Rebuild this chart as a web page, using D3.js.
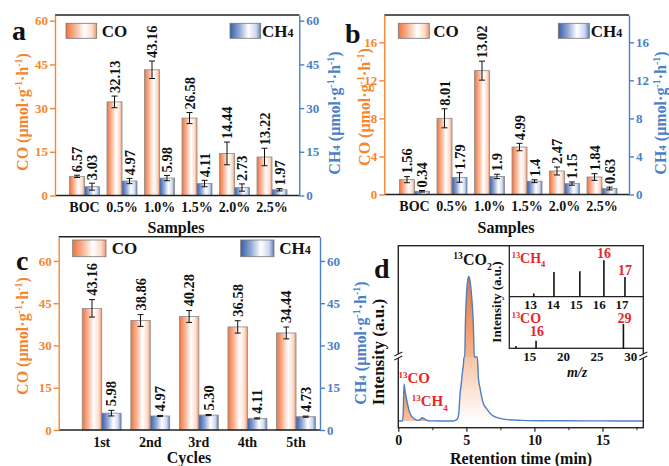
<!DOCTYPE html>
<html>
<head>
<meta charset="utf-8">
<title>CO and CH4 evolution rates</title>
<script src="https://cdn.jsdelivr.net/npm/d3@7"></script>
<style>
  body { margin: 0; background: #fff; }
  svg text { font-family: "Liberation Serif", "Times New Roman", serif; font-weight: bold; }
</style>
</head>
<body>
<script>
// ---- data ----
var samples = ["BOC", "0.5%", "1.0%", "1.5%", "2.0%", "2.5%"];
var coA = [6.57, 32.13, 43.16, 26.58, 14.44, 13.22];
var coAErr = [0.4, 2.0, 3.0, 1.9, 3.9, 3.0];
var ch4A = [3.03, 4.97, 5.98, 4.11, 2.73, 1.97];
var ch4AErr = [1.2, 0.9, 0.9, 1.1, 1.25, 0.4];

var coB = [1.56, 8.01, 13.02, 4.99, 2.47, 1.84];
var coBErr = [0.32, 1.0, 1.0, 0.39, 0.42, 0.35];
var ch4B = [0.34, 1.79, 1.9, 1.4, 1.15, 0.63];
var ch4BErr = [0.08, 0.5, 0.23, 0.15, 0.17, 0.15];

var cycles = ["1st", "2nd", "3rd", "4th", "5th"];
var coC = [43.16, 38.86, 40.28, 36.58, 34.44];
var coCErr = [3.1, 2.1, 2.1, 2.2, 2.1];
var ch4C = [5.98, 4.97, 5.30, 4.11, 4.73];
var ch4CErr = [1.0, 0.2, 0.2, 0.2, 0.2];

var ticksAC = [0, 15, 30, 45, 60];
var ticksB = [0, 4, 8, 12, 16];

// GC trace (retention time in min, intensity in a.u.)
var retTime = [0, 0.3, 0.36, 0.42, 0.5, 0.62, 0.74, 0.86, 1.0, 1.1, 1.25, 1.4, 1.55, 1.65, 1.76, 1.88, 2.0, 2.2, 2.5, 3.0, 3.6, 4.0,
  4.2, 4.34, 4.45, 4.54, 4.62, 4.7, 4.78, 4.83, 4.88, 4.93, 5.03, 5.1, 5.18, 5.26, 5.35, 5.51, 5.59, 5.81, 5.88, 6.0, 6.25,
  6.5, 6.74, 7.0, 7.48, 8.0, 9.0, 10.5, 12, 14, 16, 18];
var intensity = [0, 0, 4, 21.1, 17, 12, 7.5, 4.4, 2.5, 1.7, 0.9, 0.4, 0.6, 1.3, 1.9, 1.5, 0.8, 0.2, 0.1, 0, 0, 0.05,
  0.4, 1.2, 5, 15.8, 21, 27, 32, 36.6, 36.6, 55.7, 74.7, 80.5, 82.7, 80.5, 74.7, 55.7, 36.6, 36.6, 25, 19, 10,
  7, 4.4, 2.8, 1.5, 0.8, 0.4, 0.2, 0.15, 0.1, 0.05, 0.05];
var breakLevel = 36.6;
var timeTicks = [0, 5, 10, 15];
var timeMinor = [2.5, 7.5, 12.5, 17.5];

// MS inset
var ch4MZ = [13.17, 14.05, 15.18, 16.23, 17.15];
var ch4Int = [9, 68, 70, 100, 54];
var ch4MZTicks = [13, 14, 15, 16, 17];
var coMZ = [13, 16, 29];
var coInt = [9.5, 31, 100];
var coMZTicks = [15, 20, 25, 30];

var ORANGE = "#f5862e", BLUE = "#4a80c6", RED = "#e8262a";

var svg = d3.select("body").append("svg").attr("width", 669).attr("height", 466);
svg.append("rect").attr("width", 669).attr("height", 466).attr("fill", "#fff");

var defs = svg.append("defs");
function addGrad(id, vertical, stops) {
  var g = defs.append("linearGradient").attr("id", id)
    .attr("x1", 0).attr("y1", 0).attr("x2", vertical ? 0 : 1).attr("y2", vertical ? 1 : 0);
  stops.forEach(function(s) { g.append("stop").attr("offset", s[0]).attr("stop-color", s[1]); });
}
addGrad("gCO", false, [[0, "#ef7440"], [0.3, "#f8b595"], [0.6, "#ffffff"], [0.85, "#fcdccb"], [1, "#f3946a"]]);
addGrad("gCH4", false, [[0, "#3a5ea9"], [0.3, "#8fa6d4"], [0.6, "#ffffff"], [0.85, "#cdd8ee"], [1, "#5b7dbf"]]);
addGrad("gPeak", true, [[0, "#ee7a3c"], [1, "#f8c6a6"]]);
addGrad("gHigh", true, [[0, "#ec7430"], [1, "#f6b58f"]]);
addGrad("gLow", true, [[0, "#f9c4a6"], [1, "#ffffff"]]);

// rotated axis title with unit superscripts
function unitTitle(cx, cy, species, color) {
  var t = svg.append("text")
    .attr("transform", "translate(" + cx + "," + cy + ") rotate(-90)")
    .attr("text-anchor", "middle").attr("dy", "0.35em")
    .attr("font-size", 16).attr("fill", color);
  if (species == "CH4") {
    t.append("tspan").text("CH");
    t.append("tspan").attr("font-size", 11).text("4");
  } else {
    t.append("tspan").text("CO");
  }
  t.append("tspan").text(" (μmol·g");
  t.append("tspan").attr("font-size", 10).attr("dy", -6).text("-1");
  t.append("tspan").attr("dy", 6).text("·h");
  t.append("tspan").attr("font-size", 10).attr("dy", -6).text("-1");
  t.append("tspan").attr("dy", 6).text(")");
}

function legendItem(x, y, w, h, grad, tx, ty, species) {
  svg.append("rect").attr("x", x).attr("y", y).attr("width", w).attr("height", h)
    .attr("fill", "url(#" + grad + ")").attr("stroke", "#777").attr("stroke-width", 0.8);
  var t = svg.append("text").attr("x", tx).attr("y", ty).attr("font-size", 17).attr("fill", "#111");
  if (species == "CH4") {
    t.append("tspan").text("CH");
    t.append("tspan").attr("font-size", 12).text("4");
  } else {
    t.text("CO");
  }
}

function barPanel(p) {
  var g = svg.append("g");
  var x0 = d3.scaleBand().domain(p.cats).range([p.bandL, p.bandR]).paddingInner(0.2).paddingOuter(0.1);
  var x1 = d3.scaleBand().domain(["CO", "CH4"]).range([0, x0.bandwidth()]);
  var y = d3.scaleLinear().domain([0, p.yMax]).range([p.bottom, p.top]);

  var items = [];
  p.cats.forEach(function(c, i) {
    items.push({cat: c, key: "CO", v: p.co[i], e: p.coErr[i]});
    items.push({cat: c, key: "CH4", v: p.ch4[i], e: p.ch4Err[i]});
  });

  var bars = g.selectAll("g.bar").data(items).enter().append("g").attr("class", "bar")
    .attr("transform", function(d) { return "translate(" + (x0(d.cat) + x1(d.key)) + ",0)"; });
  var bw = x1.bandwidth();

  bars.append("rect")
    .attr("x", 0).attr("width", bw)
    .attr("y", function(d) { return y(d.v); })
    .attr("height", function(d) { return y(0) - y(d.v); })
    .attr("fill", function(d) { return d.key == "CO" ? "url(#gCO)" : "url(#gCH4)"; })
    .attr("stroke", "#8a8a8a").attr("stroke-width", 0.8);

  // error bars
  bars.append("line")
    .attr("x1", bw / 2).attr("x2", bw / 2)
    .attr("y1", function(d) { return y(d.v - d.e); })
    .attr("y2", function(d) { return y(d.v + d.e); })
    .attr("stroke", "#111").attr("stroke-width", 1);
  [1, -1].forEach(function(s) {
    bars.append("line")
      .attr("x1", bw / 2 - 3).attr("x2", bw / 2 + 3)
      .attr("y1", function(d) { return y(d.v + s * d.e); })
      .attr("y2", function(d) { return y(d.v + s * d.e); })
      .attr("stroke", "#111").attr("stroke-width", 1);
  });

  // value labels
  bars.append("text")
    .attr("transform", function(d) { return "translate(" + (bw / 2) + "," + (y(d.v + d.e) - p.labGap) + ") rotate(-90)"; })
    .attr("dy", "0.35em").attr("font-size", 14.5).attr("fill", "#111")
    .text(function(d) { return p.fmt(d.v); });

  // frame
  g.append("line").attr("x1", p.left).attr("x2", p.right).attr("y1", p.top).attr("y2", p.top)
    .attr("stroke", "#222").attr("stroke-width", 1.4);
  g.append("line").attr("x1", p.left).attr("x2", p.right).attr("y1", p.bottom).attr("y2", p.bottom)
    .attr("stroke", "#222").attr("stroke-width", 1.4);

  var ax = g.append("g").attr("transform", "translate(" + p.left + ",0)")
    .call(d3.axisLeft(y).tickValues(p.ticks).tickSize(5).tickSizeOuter(0).tickPadding(2));
  ax.selectAll("path,line").attr("stroke", ORANGE).attr("stroke-width", 1.4);
  ax.selectAll("text").attr("fill", ORANGE).attr("font-size", 13);

  var ay = g.append("g").attr("transform", "translate(" + p.right + ",0)")
    .call(d3.axisRight(y).tickValues(p.ticks).tickSize(5).tickSizeOuter(0).tickPadding(2));
  ay.selectAll("path,line").attr("stroke", BLUE).attr("stroke-width", 1.4);
  ay.selectAll("text").attr("fill", BLUE).attr("font-size", 13);

  var axb = g.append("g").attr("transform", "translate(0," + p.bottom + ")")
    .call(d3.axisBottom(x0).tickSize(0).tickPadding(p.xPad));
  axb.select(".domain").remove();
  axb.selectAll("text").attr("fill", "#111").attr("font-size", 14);

  svg.append("text").attr("x", p.xTitleX).attr("y", p.xTitleY).attr("text-anchor", "middle")
    .attr("font-size", 16).attr("fill", "#111").text(p.xTitle);
}

// ---- panel a ----
barPanel({cats: samples, co: coA, coErr: coAErr, ch4: ch4A, ch4Err: ch4AErr,
  left: 55, right: 299.3, top: 15, bottom: 195.5, yMax: 61.96, ticks: ticksAC,
  bandL: 65.75, bandR: 290.75, fmt: String, labGap: 3, xPad: 7,
  xTitle: "Samples", xTitleX: 176, xTitleY: 233});
legendItem(66, 23.3, 30.7, 15, "gCO", 101.7, 36.5, "CO");
legendItem(230, 23.3, 30.7, 15, "gCH4", 262, 36.5, "CH4");
unitTitle(22.5, 112, "CO", ORANGE);
unitTitle(334, 113, "CH4", BLUE);
svg.append("text").attr("x", 12).attr("y", 40).attr("font-size", 28).attr("fill", "#111").text("a");

// ---- panel b ----
barPanel({cats: samples, co: coB, coErr: coBErr, ch4: ch4B, ch4Err: ch4BErr,
  left: 384.3, right: 629, top: 15, bottom: 194.5, yMax: 18.87, ticks: ticksB,
  bandL: 395.75, bandR: 620.75, fmt: String, labGap: 3, xPad: 7,
  xTitle: "Samples", xTitleX: 506, xTitleY: 233});
legendItem(398.3, 23.3, 31, 15, "gCO", 433.3, 36.5, "CO");
legendItem(558.3, 23.3, 31, 15, "gCH4", 590.7, 36.5, "CH4");
unitTitle(364, 107, "CO", ORANGE);
unitTitle(660, 113, "CH4", BLUE);
svg.append("text").attr("x", 345).attr("y", 43).attr("font-size", 28).attr("fill", "#111").text("b");

// ---- panel c ----
barPanel({cats: cycles, co: coC, coErr: coCErr, ch4: ch4C, ch4Err: ch4CErr,
  left: 58.7, right: 320, top: 236.7, bottom: 430, yMax: 68.6, ticks: ticksAC,
  bandL: 77.4, bandR: 320.3, fmt: function(v) { return v.toFixed(2); }, labGap: 4, xPad: 7,
  xTitle: "Cycles", xTitleX: 189, xTitleY: 462.5});
legendItem(72.7, 240, 33.3, 16.7, "gCO", 111.7, 253.5, "CO");
legendItem(240.7, 240, 33.3, 16.7, "gCH4", 279.3, 253.5, "CH4");
unitTitle(22.5, 336, "CO", ORANGE);
unitTitle(360.7, 343, "CH4", BLUE);
svg.append("text").attr("x", 16).attr("y", 270).attr("font-size", 28).attr("fill", "#111").text("c");

// ---- panel d: GC trace ----
var dL = 398.3, dR = 643.3, dT = 245.7, dB = 427.7;
var xd = d3.scaleLinear().domain([0, 18]).range([dL, dR]);
var yd = d3.scaleLinear().domain([-3.8, 100.2]).range([dB, dT]);
var trace = retTime.map(function(t, i) { return {t: t, v: intensity[i]}; });

function segment(a, b) { return trace.filter(function(d) { return d.t >= a && d.t <= b; }); }
var curve = d3.curveMonotoneX;
var areaBase = d3.area().curve(curve).x(function(d) { return xd(d.t); }).y0(yd(0))
  .y1(function(d) { return yd(d.v); });
var areaLow = d3.area().curve(curve).x(function(d) { return xd(d.t); }).y0(yd(0))
  .y1(function(d) { return yd(Math.min(d.v, breakLevel)); });
var areaHigh = d3.area().curve(curve).x(function(d) { return xd(d.t); }).y0(yd(breakLevel))
  .y1(function(d) { return yd(Math.max(d.v, breakLevel)); });

svg.append("path").datum(segment(0.3, 1.55)).attr("d", areaBase).attr("fill", "url(#gPeak)");
svg.append("path").datum(segment(1.4, 2.3)).attr("d", areaBase).attr("fill", "url(#gPeak)");
svg.append("path").datum(segment(4.2, 9)).attr("d", areaLow).attr("fill", "url(#gLow)");
svg.append("path").datum(segment(4.83, 5.81)).attr("d", areaHigh).attr("fill", "url(#gHigh)");

svg.append("path").datum(trace)
  .attr("d", d3.line().curve(curve).x(function(d) { return xd(d.t); }).y(function(d) { return yd(d.v); }))
  .attr("fill", "none").attr("stroke", BLUE).attr("stroke-width", 1.4);

svg.append("rect").attr("x", dL).attr("y", dT).attr("width", dR - dL).attr("height", dB - dT)
  .attr("fill", "none").attr("stroke", "#222").attr("stroke-width", 1.4);

var axd = svg.append("g").attr("transform", "translate(0," + dB + ")")
  .call(d3.axisBottom(xd).tickValues(timeTicks).tickSize(4).tickPadding(3));
axd.select(".domain").remove();
axd.selectAll("line").attr("stroke", "#222").attr("stroke-width", 1.2);
axd.selectAll("text").attr("fill", "#111").attr("font-size", 14);
var axm = svg.append("g").attr("transform", "translate(0," + dB + ")")
  .call(d3.axisBottom(xd).tickValues(timeMinor).tickSize(2.5).tickFormat(""));
axm.select(".domain").remove();
axm.selectAll("line").attr("stroke", "#222").attr("stroke-width", 1);

// axis breaks
[dL, dR].forEach(function(bx) {
  var by = yd(breakLevel) - 1;
  svg.append("rect").attr("x", bx - 3).attr("y", by - 2).attr("width", 6).attr("height", 4).attr("fill", "#fff");
  [-2, 2].forEach(function(o) {
    svg.append("line").attr("x1", bx - 4).attr("y1", by + o + 2).attr("x2", bx + 4).attr("y2", by + o - 2)
      .attr("stroke", "#222").attr("stroke-width", 1.2);
  });
});

svg.append("text").attr("x", 521).attr("y", 464).attr("text-anchor", "middle").attr("font-size", 16)
  .attr("fill", "#111").text("Retention time (min)");
svg.append("text").attr("transform", "translate(378,352) rotate(-90)").attr("text-anchor", "middle")
  .attr("dy", "0.35em").attr("font-size", 17).attr("fill", "#111").text("Intensity (a.u.)");
svg.append("text").attr("x", 374).attr("y", 278).attr("font-size", 28).attr("fill", "#111").text("d");

function isoLabel(x, y, main, sub, size, color) {
  var t = svg.append("text").attr("x", x).attr("y", y).attr("font-size", size).attr("fill", color);
  t.append("tspan").attr("font-size", size * 0.6).attr("dy", -size * 0.35).text("13");
  t.append("tspan").attr("dy", size * 0.35).text(main);
  if (sub) t.append("tspan").attr("font-size", size * 0.6).attr("dy", size * 0.3).text(sub);
}
isoLabel(398.5, 383, "CO", null, 15, RED);
isoLabel(411.7, 406, "CH", "4", 15, RED);
isoLabel(453.3, 265, "CO", "2", 16, "#111");

// ---- MS inset ----
var iL = 509.3, iMid = 296.7, iB = 348.3;
var xu = d3.scaleLinear().domain([12.1, 17.95]).range([iL, dR]);
var yu = d3.scaleLinear().domain([0, 139.7]).range([iMid, dT]);
var xl = d3.scaleLinear().domain([12.02, 31.96]).range([iL, dR]);
var yl = d3.scaleLinear().domain([0, 212]).range([iB, iMid]);

svg.append("rect").attr("x", iL).attr("y", dT).attr("width", dR - iL).attr("height", iB - dT)
  .attr("fill", "#fff").attr("stroke", "#222").attr("stroke-width", 1.3);
svg.append("line").attr("x1", iL).attr("x2", dR).attr("y1", iMid).attr("y2", iMid)
  .attr("stroke", "#222").attr("stroke-width", 1.3);

svg.selectAll("line.msUp").data(ch4MZ).enter().append("line").attr("class", "msUp")
  .attr("x1", function(d) { return xu(d); }).attr("x2", function(d) { return xu(d); })
  .attr("y1", yu(0)).attr("y2", function(d, i) { return yu(ch4Int[i]); })
  .attr("stroke", "#111").attr("stroke-width", 1.6);
svg.selectAll("line.msLo").data(coMZ).enter().append("line").attr("class", "msLo")
  .attr("x1", function(d) { return xl(d); }).attr("x2", function(d) { return xl(d); })
  .attr("y1", yl(0)).attr("y2", function(d, i) { return yl(coInt[i]); })
  .attr("stroke", "#111").attr("stroke-width", 1.6);

var au = svg.append("g").attr("transform", "translate(0," + iMid + ")")
  .call(d3.axisBottom(xu).tickValues(ch4MZTicks).tickFormat(d3.format("d")).tickSize(0).tickPadding(3));
au.select(".domain").remove();
au.selectAll("text").attr("fill", "#111").attr("font-size", 13);
var al = svg.append("g").attr("transform", "translate(0," + iB + ")")
  .call(d3.axisBottom(xl).tickValues(coMZTicks).tickFormat(d3.format("d")).tickSize(0).tickPadding(3));
al.select(".domain").remove();
al.selectAll("text").attr("fill", "#111").attr("font-size", 13);

function peakLabel(x, y, txt) {
  svg.append("text").attr("x", x).attr("y", y).attr("text-anchor", "middle").attr("font-size", 14)
    .attr("fill", RED).text(txt);
}
peakLabel(xu(ch4MZ[3]), yu(ch4Int[3]) - 2, "16");
peakLabel(xu(ch4MZ[4]), yu(ch4Int[4]) - 2, "17");
peakLabel(xl(coMZ[1]) + 1, yl(coInt[1]) - 4.5, "16");
peakLabel(xl(coMZ[2]) + 1, yl(coInt[2]) - 1, "29");
isoLabel(511.7, 263, "CH", "4", 14, RED);
isoLabel(511.7, 323, "CO", null, 14, RED);

svg.append("text").attr("transform", "translate(496,302) rotate(-90)").attr("text-anchor", "middle")
  .attr("dy", "0.35em").attr("font-size", 13).attr("fill", "#111").text("Intensity (a.u.)");
svg.append("text").attr("x", 577).attr("y", 377).attr("text-anchor", "middle").attr("font-size", 14)
  .attr("font-style", "italic").attr("fill", "#111").text("m/z");
</script>
</body>
</html>
